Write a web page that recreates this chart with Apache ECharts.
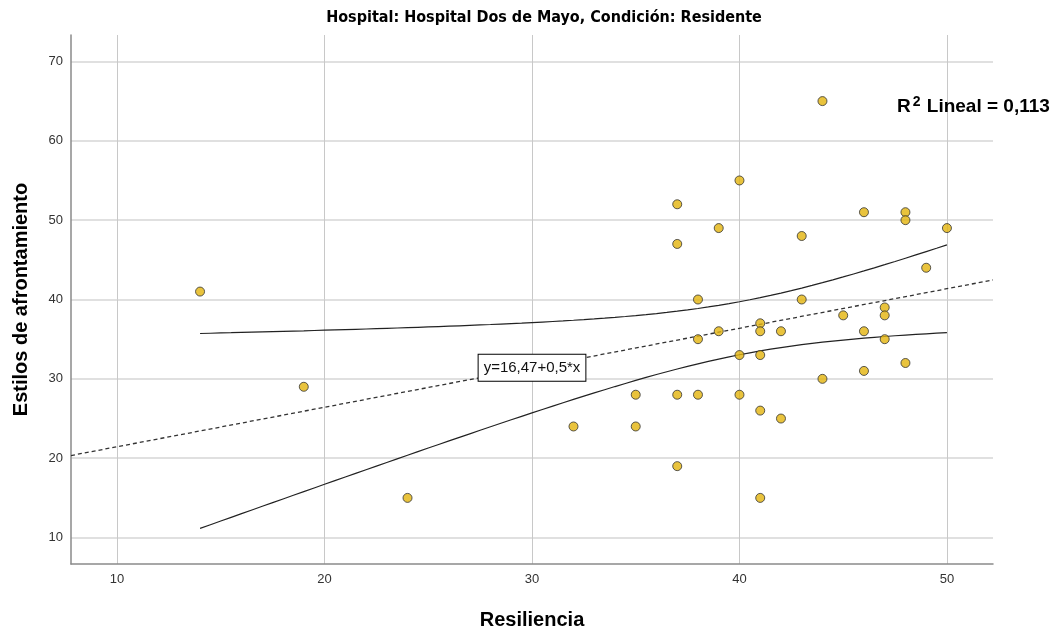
<!DOCTYPE html>
<html>
<head>
<meta charset="utf-8">
<script src="https://cdn.jsdelivr.net/npm/echarts@6/dist/echarts.min.js"></script>
<style>
html,body{margin:0;padding:0;background:#fff;}
#chart{width:1058px;height:635px;}
</style>
</head>
<body>
<div id="chart"></div>
<script>
// Data
const resiliencia = [14,19,24,32,35,35,37,37,37,37,38,38,38,39,39,40,40,40,41,41,41,41,41,42,42,43,43,44,44,45,46,46,46,47,47,47,48,48,48,49,50];
const estilos     = [41,29,15,24,28,24,52,47,28,19,40,35,28,49,36,55,33,28,37,36,33,26,15,36,25,48,40,65,30,38,51,36,31,39,38,35,51,50,32,44,49];
const xTicks = [10,20,30,40,50];
const yTicks = [10,20,30,40,50,60,70];
const xRange = [7.78, 52.22];
const yRange = [6.67, 73.33];
const titleText = 'Hospital: Hospital Dos de Mayo, Condición: Residente';
const eqText = 'y=16,47+0,5*x';
const r2Text = '0,113';

// Linear fit and 95% mean confidence band computed from the data
const n = resiliencia.length;
const mx = resiliencia.reduce((s,v)=>s+v,0)/n;
const my = estilos.reduce((s,v)=>s+v,0)/n;
let sxx=0, sxy=0, syy=0;
for (let i=0;i<n;i++){const dx=resiliencia[i]-mx, dy=estilos[i]-my; sxx+=dx*dx; sxy+=dx*dy; syy+=dy*dy;}
const b = sxy/sxx, a = my - b*mx;
const sRes = Math.sqrt((syy - b*sxy)/(n-2));
const tCrit = 2.0227;
const fit = x => a + b*x;
const xMinD = Math.min(...resiliencia), xMaxD = Math.max(...resiliencia);
const upper = [], lower = [];
for (let k=0;k<=72;k++){
  const x = xMinD + (xMaxD-xMinD)*k/72;
  const h = tCrit*sRes*Math.sqrt(1/n + (x-mx)*(x-mx)/sxx);
  upper.push([x, fit(x)+h]);
  lower.push([x, fit(x)-h]);
}
const fitLine = [[xRange[0], fit(xRange[0])],[xRange[1], fit(xRange[1])]];
const points = resiliencia.map((x,i)=>[x, estilos[i]]);

const baseFont = 'Liberation Sans, Arial, sans-serif';
const narrowFont = '"Liberation Sans Narrow", "Arial Narrow", "DejaVu Sans Condensed", sans-serif';

const chart = echarts.init(document.getElementById('chart'), null, {renderer:'canvas'});
chart.setOption({
  animation:false,
  backgroundColor:'#ffffff',
  grid:{left:71, right:65, top:35, bottom:65, containLabel:false},
  xAxis:{
    type:'value', min:xRange[0], max:xRange[1],
    name:'Resiliencia', nameLocation:'middle', nameGap:46,
    nameTextStyle:{fontFamily:baseFont, fontSize:20, fontWeight:'bold', color:'#000'},
    axisLine:{show:true, onZero:false, lineStyle:{color:'#8a8a8a', width:1.5}},
    axisTick:{show:false, customValues:xTicks},
    axisLabel:{customValues:xTicks, fontFamily:baseFont, fontSize:13, color:'#333', margin:9},
    splitLine:{show:true, lineStyle:{color:'#c8c8c8', width:1}}
  },
  yAxis:{
    type:'value', min:yRange[0], max:yRange[1],
    name:'Estilos de afrontamiento', nameLocation:'middle', nameGap:40, nameRotate:90,
    nameTextStyle:{fontFamily:baseFont, fontSize:20, fontWeight:'bold', color:'#000'},
    axisLine:{show:true, onZero:false, lineStyle:{color:'#8a8a8a', width:1.5}},
    axisTick:{show:false, customValues:yTicks},
    axisLabel:{customValues:yTicks, fontFamily:baseFont, fontSize:13, color:'#333', margin:8},
    splitLine:{show:true, lineStyle:{color:'#d6d6d6', width:1.5}}
  },
  graphic:[
    {type:'text', x:544, y:18, style:{text:titleText, textAlign:'center', textVerticalAlign:'middle', font:'bold 16px '+narrowFont, fill:'#000'}, z:100},
    {type:'text', x:897, y:107, style:{
      text:'{b|R}{s|2}{b| Lineal = '+r2Text+'}',
      textVerticalAlign:'middle',
      rich:{
        b:{fontFamily:baseFont, fontSize:19, fontWeight:'bold', fill:'#000', color:'#000'},
        s:{fontFamily:baseFont, fontSize:14, fontWeight:'bold', fill:'#000', color:'#000', verticalAlign:'top', padding:[0,1,9,2]}
      }
    }, z:100}
  ],
  series:[
    {type:'line', data:fitLine, showSymbol:false, symbol:'none', silent:true, z:2,
     lineStyle:{color:'#333', width:1.3, type:[4,3]},
     markPoint:{
       symbol:'rect', symbolSize:1, itemStyle:{color:'rgba(0,0,0,0)'},
       data:[{coord:[30, fit(30)]}],
       label:{show:true, position:'inside', formatter:eqText, fontFamily:baseFont, fontSize:15, color:'#111',
              backgroundColor:'#fff', borderColor:'#000', borderWidth:1, padding:[6,5,5,5]}
     }},
    {type:'line', data:upper, showSymbol:false, symbol:'none', smooth:false, silent:true, z:2,
     lineStyle:{color:'#222', width:1.2}},
    {type:'line', data:lower, showSymbol:false, symbol:'none', smooth:false, silent:true, z:2,
     lineStyle:{color:'#222', width:1.2}},
    {type:'scatter', data:points, symbol:'circle', symbolSize:9, z:5,
     itemStyle:{color:'#e4b40c', borderColor:'#333', borderWidth:1}}
  ]
});
</script>
</body>
</html>
